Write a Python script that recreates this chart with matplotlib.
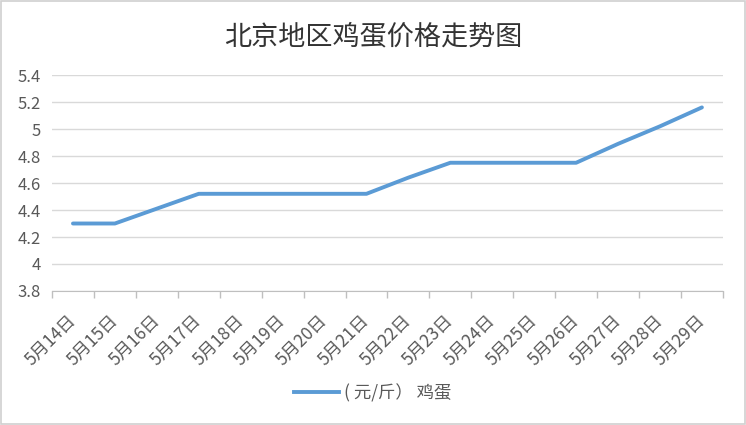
import matplotlib
matplotlib.use("Agg")
import matplotlib.pyplot as plt
from matplotlib.lines import Line2D
from matplotlib.patches import Rectangle

plt.rcParams['font.family'] = ['Noto Sans CJK SC', 'DejaVu Sans']

categories = ["5月14日", "5月15日", "5月16日", "5月17日", "5月18日", "5月19日", "5月20日", "5月21日",
              "5月22日", "5月23日", "5月24日", "5月25日", "5月26日", "5月27日", "5月28日", "5月29日"]
prices = [4.30, 4.30, 4.41, 4.52, 4.52, 4.52, 4.52, 4.52,
          4.64, 4.75, 4.75, 4.75, 4.75, 4.89, 5.02, 5.16]
yticks = [3.8, 4, 4.2, 4.4, 4.6, 4.8, 5, 5.2, 5.4]
ytick_labels = ["3.8", "4", "4.2", "4.4", "4.6", "4.8", "5", "5.2", "5.4"]
title = "北京地区鸡蛋价格走势图"
series_name = "( 元/斤） 鸡蛋"

fig = plt.figure(figsize=(7.46, 4.25), dpi=100)
ax = fig.add_axes([0.0697, 0.3153, 0.8993, 0.5082])

x = list(range(len(categories)))
line_color = "#5B9BD5"
text_color = "#595959"
ax.plot(x, prices, color=line_color, linewidth=2.8, solid_capstyle="round", solid_joinstyle="round", zorder=3)

ax.set_xlim(-0.5, len(categories) - 0.5)
ax.set_ylim(3.8, 5.4)
ax.set_yticks(yticks)
ax.set_yticklabels(ytick_labels, fontsize=12, color=text_color)
ax.tick_params(axis="y", length=0, pad=8)
ax.yaxis.grid(True, color="#D9D9D9", linewidth=1)
ax.set_axisbelow(True)

ax.set_xticks(x)
ax.set_xticklabels(categories, rotation=45, ha="right", va="center", rotation_mode="anchor",
                   fontsize=12.5, color=text_color)
ax.tick_params(axis="x", which="major", length=0, pad=19)
ax.set_xticks([i - 0.5 for i in range(len(categories) + 1)], minor=True)
ax.tick_params(axis="x", which="minor", length=5, color="#BFBFBF", width=1)

for s in ["top", "right", "left"]:
    ax.spines[s].set_visible(False)
ax.spines["bottom"].set_color("#BFBFBF")

fig.text(0.5, 0.913, title, ha="center", va="center", fontsize=19.5, color="#333333")

handle = Line2D([0], [0], color=line_color, linewidth=2.8)
fig.legend([handle], [series_name], loc="center", bbox_to_anchor=(0.5, 0.075), frameon=False,
           fontsize=12.5, labelcolor=text_color, handlelength=2.6, handletextpad=0.3)

fig.patches.append(Rectangle((0.001, 0.002), 0.997, 0.995, transform=fig.transFigure,
                             fill=False, edgecolor="#D0D0D0", linewidth=1.2))

fig.savefig("out.png", dpi=100)
